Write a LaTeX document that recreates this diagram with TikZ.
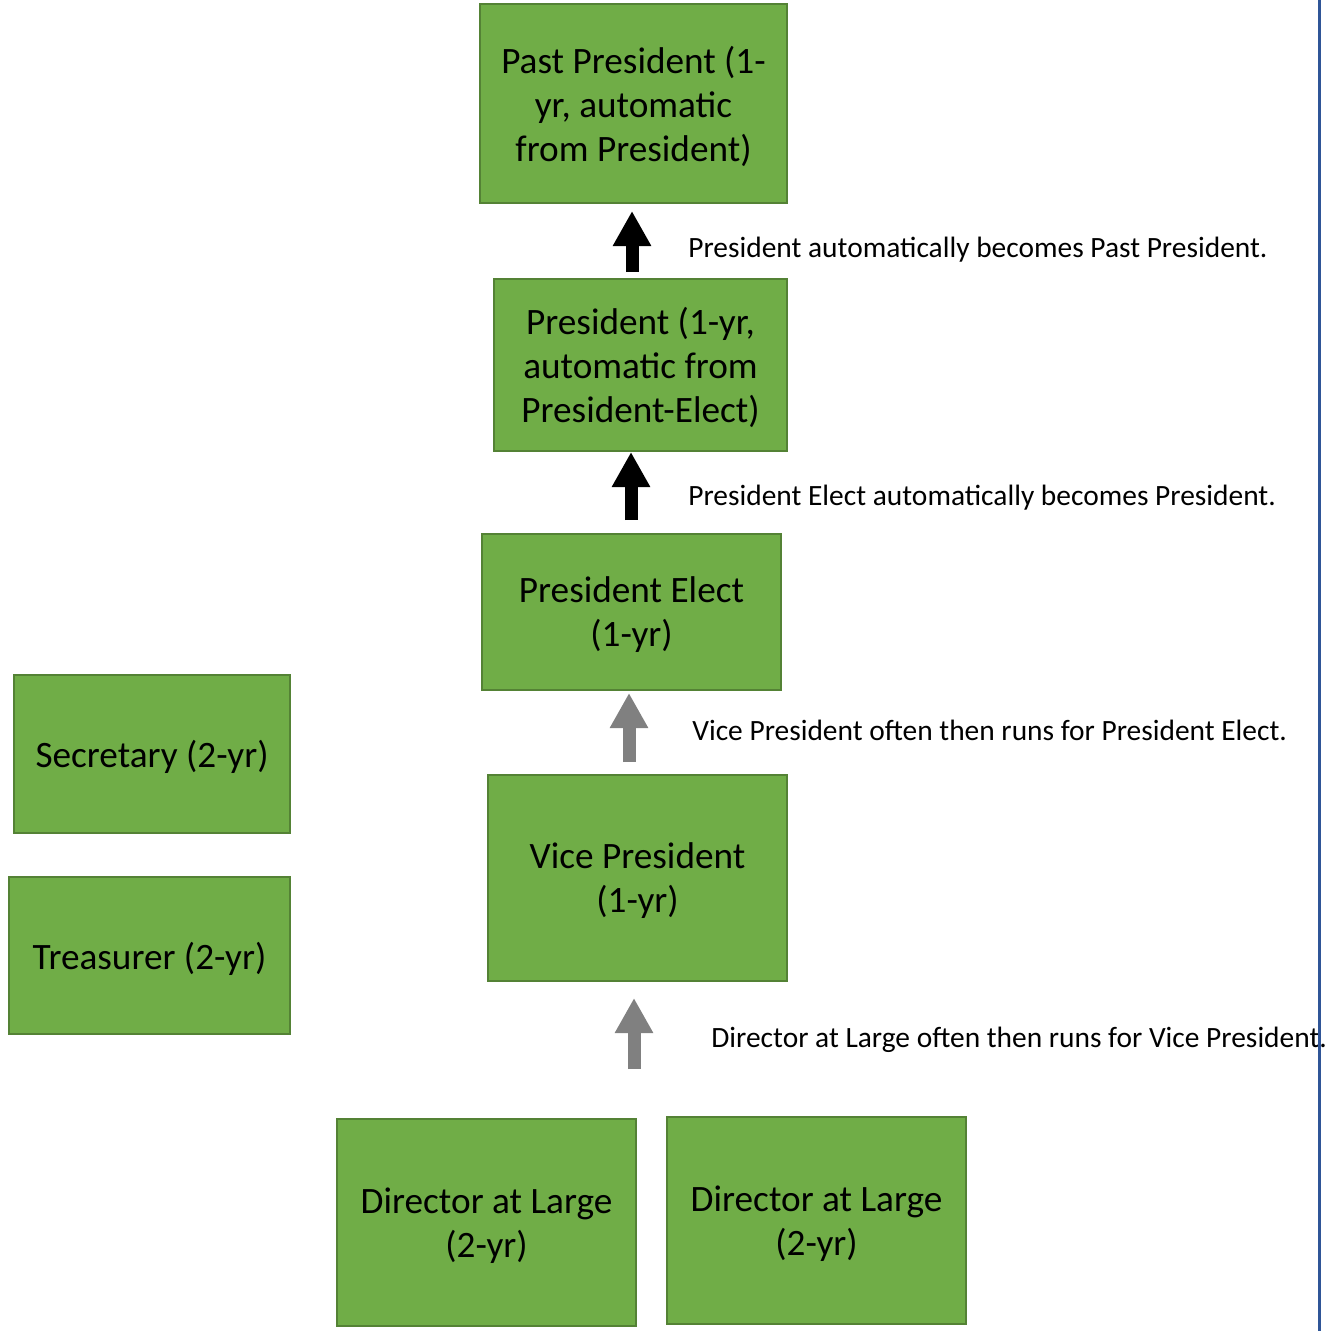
\documentclass[tikz,border=0pt]{standalone}
\usepackage{fontspec}
\setmainfont{Carlito}
\usetikzlibrary{arrows.meta}
\definecolor{boxgreen}{HTML}{70AD47}
\definecolor{boxedge}{HTML}{548235}
\definecolor{rulerblue}{HTML}{2F5597}
\def\px{0.02cm}

\begin{document}
\begin{tikzpicture}[x=\px,y=-\px]
    \tikzstyle{office} = [rectangle, draw=boxedge, fill=boxgreen, line width=2*\px, inner sep=0pt, text depth=0pt, align=center, font=\fontsize{21.2}{25}\selectfont]
    \tikzstyle{note} = [anchor=base west, inner sep=0pt, font=\fontsize{16.75}{19}\selectfont]
    \tikzstyle{auto step} = [-{Triangle[width=36*\px,length=35*\px]}, line width=13*\px, black]
    \tikzstyle{often step} = [auto step, black!50]

    \useasboundingbox (0,0) rectangle (1326,1331);

    %%% DRAW THE NODES
    \node[office, minimum width=307*\px, minimum height=199*\px] (past) at (633.5,103.5) {Past President (1-\\yr, automatic\\from President)};
    \node[office, minimum width=293*\px, minimum height=172*\px] (pres) at (640.5,365) {President (1-yr,\\automatic from\\President-Elect)};
    \node[office, minimum width=299*\px, minimum height=156*\px] (elect) at (631.5,612) {President Elect\\(1-yr)};
    \node[office, minimum width=299*\px, minimum height=206*\px] (vice) at (637.5,878) {Vice President\\(1-yr)};
    \node[office, minimum width=276*\px, minimum height=158*\px] (sec) at (152,754) {Secretary (2-yr)};
    \node[office, minimum width=281*\px, minimum height=157*\px] (treas) at (149.5,955.5) {Treasurer (2-yr)};
    \node[office, minimum width=299*\px, minimum height=207*\px] (dir-1) at (486.5,1222.5) {Director at Large\\(2-yr)};
    \node[office, minimum width=299*\px, minimum height=207*\px] (dir-2) at (816.5,1220.5) {Director at Large\\(2-yr)};

    %%% DRAW THE PATHS
    \draw[auto step] (pres.north -| 632,0) ++(0,-6) -- ([yshift=-7*\px]past.south -| 632,0);
    \draw[auto step] (elect.north -| 631,0) ++(0,-13) -- (pres.south -| 631,0);
    \draw[often step] (vice.north -| 629,0) ++(0,-12) -- ([yshift=-2*\px]elect.south -| 629,0);
    \draw[often step] (634,1069) -- ([yshift=-16*\px]vice.south -| 634,0);

    %%% ANOTATE
    \node[note] (n-past) at (688,257) {President automatically becomes Past President.};
    \node[note] (n-pres) at (688,505) {President Elect automatically becomes President.};
    \node[note] (n-elect) at (692,740) {Vice President often then runs for President Elect.};
    \node[note] (n-vice) at (711,1047) {Director at Large often then runs for Vice President.};

    \draw[rulerblue, line width=2.5*\px] (1319.5,0) -- (1319.5,1331);
\end{tikzpicture}
\end{document}
